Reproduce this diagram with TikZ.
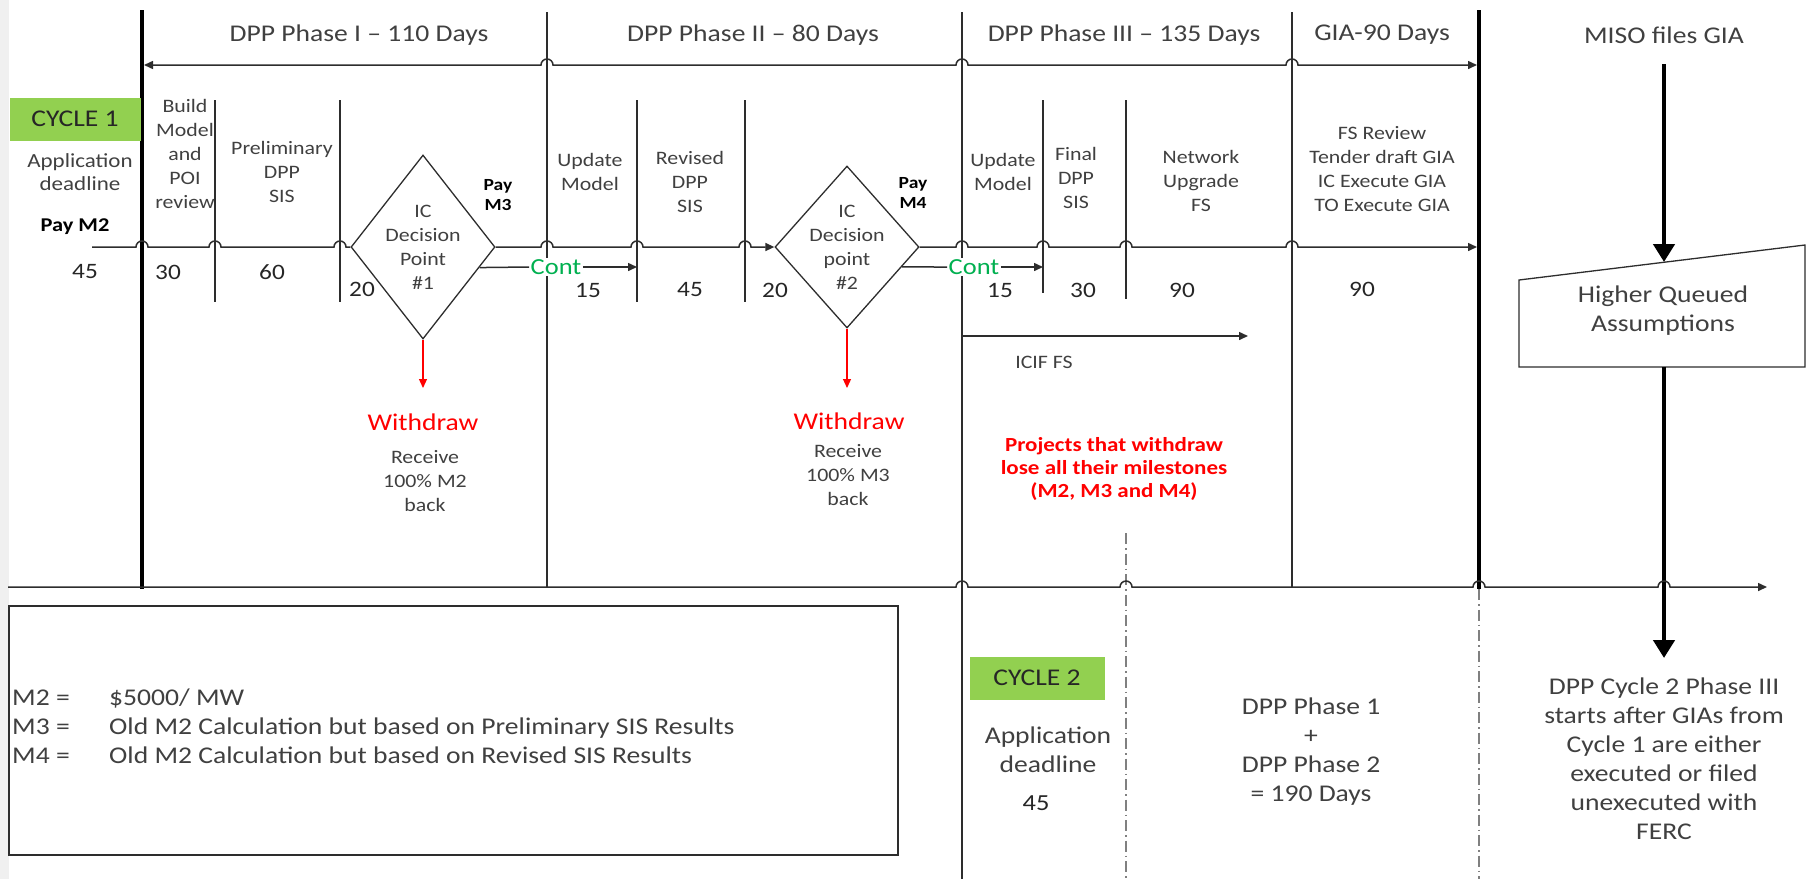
\documentclass[tikz,border=0pt]{standalone}
\usepackage{fontspec}
\setmainfont{Carlito}[FakeStretch=1.15]
\usetikzlibrary{arrows.meta,shapes.geometric}

\definecolor{cycgreen}{RGB}{146,208,80}
\definecolor{contgreen}{RGB}{0,176,80}
\definecolor{txtgray}{RGB}{64,64,64}
\definecolor{linegray}{RGB}{45,45,45}

% horizontal line hopping over a vertical one
\newcommand{\hopat}[2]{-- (#1-6,#2) arc[start angle=180,end angle=360,radius=6]}

\begin{document}
\begin{tikzpicture}[x=1pt,y=-1pt,
  lbl/.style={text=txtgray,align=center,inner sep=0pt,font=\fontsize{19}{24}\selectfont},
  big/.style={lbl,font=\fontsize{24}{29}\selectfont},
  num/.style={lbl,text=black!85,font=\fontsize{22}{26}\selectfont},
  pay/.style={lbl,text=black,font=\bfseries\fontsize{17}{20}\selectfont},
  wdlbl/.style={lbl,text=red,font=\fontsize{24}{29}\selectfont},
  contlbl/.style={lbl,text=contgreen,fill=white,inner sep=1.5pt,font=\fontsize{23}{27}\selectfont},
  cycbox/.style={big,fill=cycgreen,text=black!85,minimum width=131pt,minimum height=43pt},
  decision/.style={diamond,draw=linegray,line width=1.3pt,inner sep=0pt},
  tl/.style={draw=linegray,line width=1.5pt},
  tip/.style={-{Triangle[width=8pt,length=9pt]}},
  sepline/.style={draw=linegray,line width=1.3pt},
  thickline/.style={draw=black,line width=4.5pt},
  dashdot/.style={draw=gray,line width=1.3pt,dash pattern=on 11pt off 4pt on 1.5pt off 4pt},
  bigarrow/.style={draw=black,line width=4.5pt,-{Triangle[width=21pt,length=18pt]}},
  redarrow/.style={draw=red,line width=1.2pt,-{Triangle[width=8pt,length=9pt]}}]
\useasboundingbox (0,0) rectangle (1807,879);

% left shadow strip
\fill[gray!12] (0,0) rectangle (9,879);

% phase dividers
\foreach \xx/\yb in {215/302,340/302,637/302,745/302,1043/293,1126/299}
  \draw[sepline] (\xx,100) -- (\xx,\yb);
\draw[sepline] (547,12) -- (547,587);
\draw[sepline] (962,12) -- (962,879);
\draw[sepline] (1292,12) -- (1292,587);
\draw[thickline] (142,10) -- (142,589);
\draw[thickline] (1479,10) -- (1479,589);
\draw[dashdot] (1479,589) -- (1479,879);
\draw[dashdot] (1126,533) -- (1126,879);

% phase titles
\node[big] (ph1) at (359,35) {DPP Phase I – 110 Days};
\node[big] (ph2) at (753,35) {DPP Phase II – 80 Days};
\node[big] (ph3) at (1124,35) {DPP Phase III – 135 Days};
\node[big] (gia) at (1382,35) {GIA-90 Days};
\node[big] (miso) at (1664,35) {MISO files GIA};
\draw[tl,{Triangle[width=8pt,length=9pt]}-{Triangle[width=8pt,length=9pt]}] (144,65)
  \hopat{547}{65} \hopat{962}{65} \hopat{1292}{65} -- (1477,65);

% cycle 1
\node[cycbox] (cyc1) at (75,119) {CYCLE 1};
\node[lbl,font=\fontsize{20}{23}\selectfont] (app1) at (80,172) {Application\\deadline};
\node[pay,font=\bfseries\fontsize{19.5}{22}\selectfont] (pay2) at (75,227) {Pay M2};

% step labels
\node[lbl] (build) at (185,154) {Build\\Model\\and\\POI\\review};
\node[lbl] (prelim) at (282,172) {Preliminary\\DPP\\SIS};
\node[pay] (pay3) at (498,195) {Pay\\M3};
\node[lbl] (upd1) at (590,172) {Update\\Model};
\node[lbl] (rev) at (690,182) {Revised\\DPP\\SIS};
\node[pay] (pay4) at (913,193) {Pay\\M4};
\node[lbl] (upd2) at (1003,172) {Update\\Model};
\node[lbl] (final) at (1076,178) {Final\\DPP\\SIS};
\node[lbl] (netw) at (1201,181) {Network\\Upgrade\\FS};
\node[lbl] (fsrev) at (1382,169) {FS Review\\Tender draft GIA\\IC Execute GIA\\TO Execute GIA};

% decision points
\node[decision,minimum width=144pt,minimum height=184pt] (dp1) at (423,247) {};
\node[lbl] at (dp1) {IC\\Decision\\Point\\\#1};
\node[decision,minimum width=144pt,minimum height=162pt] (dp2) at (847,247) {};
\node[lbl] at (dp2) {IC\\Decision\\point\\\#2};

% main timeline
\coordinate (tl0) at (92,247);
\coordinate (tl1) at (1477,247);
\draw[tl] (tl0) \hopat{142}{247} \hopat{215}{247} \hopat{340}{247} -- (dp1.west);
\draw[tl,tip] (dp1.east) \hopat{547}{247} \hopat{637}{247} \hopat{745}{247} -- (dp2.west);
\draw[tl,tip] (dp2.east) \hopat{962}{247} \hopat{1043}{247} \hopat{1126}{247} \hopat{1292}{247} -- (tl1);

% durations
\node[num] (d45) at (85,272) {45};
\node[num] (d30) at (168,272) {30};
\node[num] (d60) at (272,272) {60};
\node[num] (d20a) at (362,289) {20};
\node[num] (d15a) at (588,290) {15};
\node[num] (d45b) at (690,290) {45};
\node[num] (d20b) at (775,290) {20};
\node[num] (d15b) at (1000,290) {15};
\node[num] (d30b) at (1083,290) {30};
\node[num] (d90a) at (1182,290) {90};
\node[num] (d90b) at (1362,289) {90};

% continue
\node[contlbl] (c1) at (556,267) {Cont};
\node[contlbl] (c2) at (974,267) {Cont};
\coordinate (ce1) at (637,267);
\coordinate (ce2) at (1043,267);
\draw[tl] (dp1.-20) -- (c1.west);
\draw[tl,tip] (c1.east) -- (ce1);
\draw[tl] (dp2.-20) -- (c2.west);
\draw[tl,tip] (c2.east) -- (ce2);

% withdraw
\coordinate (wa1) at (423,388);
\coordinate (wa2) at (847,388);
\draw[redarrow] (dp1.south) -- (wa1);
\draw[redarrow] (dp2.south) -- (wa2);
\node[wdlbl] (wd1) at (423,422) {Withdraw};
\node[lbl] (rc1) at (425,481) {Receive\\100\% M2\\back};
\node[wdlbl] (wd2) at (849,421) {Withdraw};
\node[lbl] (rc2) at (848,475) {Receive\\100\% M3\\back};

% ICIF FS
\coordinate (ic0) at (962,336);
\coordinate (ic1) at (1248,336);
\draw[tl,tip] (ic0) -- (ic1);
\node[lbl] (icif) at (1044,362) {ICIF FS};
\node[lbl,text=red,font=\bfseries\fontsize{20}{23}\selectfont] (lose) at (1114,469)
  {Projects that withdraw\\lose all their milestones\\(M2, M3 and M4)};

% higher queued assumptions
\draw[sepline,fill=white] (1519,367) -- (1519,280) -- (1805,245) -- (1805,367) -- cycle;
\node[big] (hqa) at (1663,311) {Higher Queued\\Assumptions};
\coordinate (ma0) at (1664,64);
\coordinate (ma1) at (1664,262);
\coordinate (ma2) at (1664,367);
\coordinate (ma3) at (1664,658);
\draw[bigarrow] (ma0) -- (ma1);

% bottom timeline
\coordinate (bt0) at (8,587);
\coordinate (bt1) at (1767,587);
\draw[bigarrow] (ma2) -- (ma3);
\draw[tl,tip] (bt0) \hopat{962}{587} \hopat{1126}{587} \hopat{1479}{587} \hopat{1664}{587} -- (bt1);

% milestone legend
\draw[sepline] (9,606) rectangle (898,855);
\node[lbl,anchor=west,align=left,font=\fontsize{24}{29}\selectfont] (legend) at (12,729)
  {\begin{tabular}{@{}l@{}l@{}}
   \makebox[97pt][l]{M2 =} & \$5000/ MW\\
   \makebox[97pt][l]{M3 =} & Old M2 Calculation but based on Preliminary SIS Results\\
   \makebox[97pt][l]{M4 =} & Old M2 Calculation but based on Revised SIS Results
   \end{tabular}};

% cycle 2
\node[cycbox,minimum width=135pt] (cyc2) at (1037,678) {CYCLE 2};
\node[big] (app2) at (1048,750) {Application\\deadline};
\node[num,font=\fontsize{23}{27}\selectfont] (d45c) at (1036,803) {45};
\node[big] (sum) at (1311,752) {DPP Phase 1\\+\\DPP Phase 2\\= 190 Days};
\node[big] (c2note) at (1664,759) {DPP Cycle 2 Phase III\\starts after GIAs from\\Cycle 1 are either\\executed or filed\\unexecuted with\\FERC};

\end{tikzpicture}
\end{document}
